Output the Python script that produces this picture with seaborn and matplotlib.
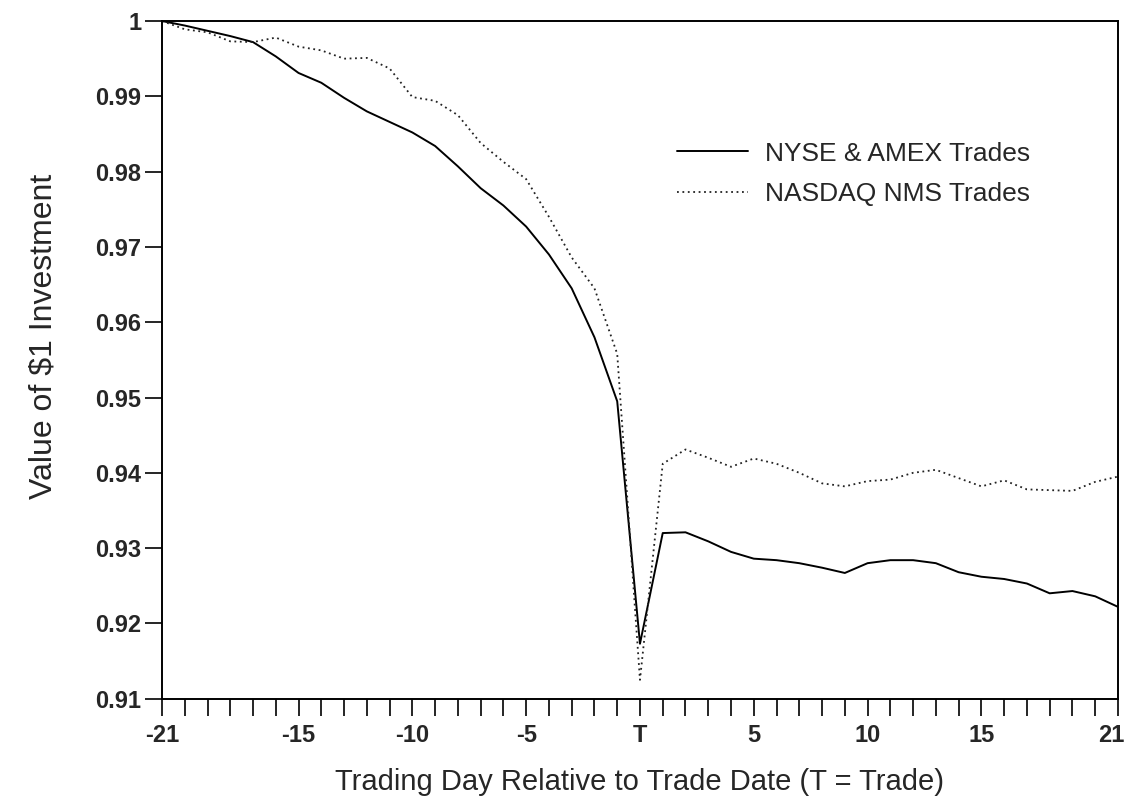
import matplotlib
matplotlib.use('Agg')
import matplotlib.pyplot as plt
import matplotlib.transforms as mtransforms
import pandas as pd
import seaborn as sns

# Trading days relative to trade date (T = 0)
days = list(range(-21, 22))

# Value of $1 investment
nyse_amex = [1.0000, 0.9994, 0.9987, 0.9980, 0.9972, 0.9953, 0.9931, 0.9918,
             0.9898, 0.9880, 0.9866, 0.9852, 0.9834, 0.9807, 0.9778, 0.9755,
             0.9727, 0.9690, 0.9645, 0.9580, 0.9495, 0.9173, 0.9320, 0.9321,
             0.9309, 0.9295, 0.9286, 0.9284, 0.9280, 0.9274, 0.9267, 0.9280,
             0.9284, 0.9284, 0.9280, 0.9268, 0.9262, 0.9259, 0.9253, 0.9240,
             0.9243, 0.9236, 0.9222]
nasdaq_nms = [1.0000, 0.9989, 0.9985, 0.9973, 0.9972, 0.9978, 0.9966, 0.9961,
              0.9950, 0.9951, 0.9937, 0.9899, 0.9894, 0.9875, 0.9838, 0.9813,
              0.9790, 0.9740, 0.9686, 0.9645, 0.9558, 0.9125, 0.9412, 0.9431,
              0.9420, 0.9408, 0.9419, 0.9412, 0.9400, 0.9386, 0.9382, 0.9389,
              0.9391, 0.9400, 0.9404, 0.9393, 0.9382, 0.9390, 0.9378, 0.9377,
              0.9376, 0.9388, 0.9395]

x_labelled = [-21, -15, -10, -5, 0, 5, 10, 15, 21]
x_names = ['-21', '-15', '-10', '-5', 'T', '5', '10', '15', '21']
y_ticks = [0.91, 0.92, 0.93, 0.94, 0.95, 0.96, 0.97, 0.98, 0.99, 1.0]
y_names = ['0.91', '0.92', '0.93', '0.94', '0.95', '0.96', '0.97', '0.98', '0.99', '1']

df = pd.DataFrame({'day': days, 'NYSE & AMEX Trades': nyse_amex,
                   'NASDAQ NMS Trades': nasdaq_nms})

sns.set_style('ticks')
plt.rcParams['font.family'] = ['Liberation Sans', 'DejaVu Sans']

fig = plt.figure(figsize=(11.28, 7.99), dpi=100)
ax = fig.add_axes([0.1436, 0.1255, 0.8475, 0.8482])

sns.lineplot(data=df, x='day', y='NYSE & AMEX Trades', color='black', lw=1.4,
             label='NYSE & AMEX Trades', ax=ax)
sns.lineplot(data=df, x='day', y='NASDAQ NMS Trades', color='#222222', lw=1.3,
             linestyle=(0, (1, 2)), label='NASDAQ NMS Trades', ax=ax)

ax.set_xlim(-21, 21)
ax.set_ylim(0.91, 1.0)
ax.set_xticks(days)
ax.set_xticklabels([x_names[x_labelled.index(d)] if d in x_labelled else '' for d in days],
                   fontsize=17, fontweight='bold')
ax.set_yticks(y_ticks)
ax.set_yticklabels(y_names, fontsize=17, fontweight='bold')
ax.tick_params(axis='both', direction='out', length=12, width=1.2, color='black')
ax.tick_params(axis='x', pad=6)
ax.tick_params(axis='y', pad=3)

# last x label sits right on the figure edge, nudge it in a bit
last = ax.get_xticklabels()[-1]
last.set_transform(last.get_transform() + mtransforms.ScaledTranslation(-7 / 100, 0, fig.dpi_scale_trans))

for s in ax.spines.values():
    s.set_visible(True)
    s.set_color('black')
    s.set_linewidth(1.4)

ax.set_xlabel('Trading Day Relative to Trade Date (T = Trade)', fontsize=21, labelpad=15)
ax.set_ylabel('Value of $1 Investment', fontsize=23)
ax.yaxis.set_label_coords(-0.108, 0.535)

ax.legend(loc='upper left', bbox_to_anchor=(0.5387, 0.822), frameon=False,
          handlelength=2.7, handletextpad=0.65, labelspacing=0.62,
          borderpad=0, borderaxespad=0, fontsize=19)

fig.savefig('out.png', dpi=100)
